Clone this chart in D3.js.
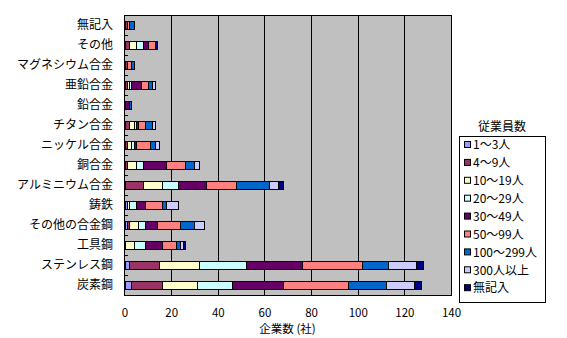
<!DOCTYPE html>
<html>
<head>
<meta charset="utf-8">
<script src="https://cdn.jsdelivr.net/npm/d3@7"></script>
<style>
  html, body { margin: 0; padding: 0; background: #fff; }
  svg { display: block; }
  text { font-family: "Noto Sans CJK JP", "Noto Sans", sans-serif; fill: #000; }
</style>
</head>
<body>
<svg id="chart" width="567" height="338"></svg>
<script>
// Material categories, top to bottom
const categories = ["無記入", "その他", "マグネシウム合金", "亜鉛合金", "鉛合金", "チタン合金",
  "ニッケル合金", "銅合金", "アルミニウム合金", "鋳鉄", "その他の合金鋼", "工具鋼", "ステンレス鋼", "炭素鋼"];

// Number of companies by employee-size class (same order as categories)
const emp1to3     = [0, 0, 0, 0, 0, 0, 0, 0, 0, 1, 1, 0, 2, 3];
const emp4to9     = [1, 2, 1, 1, 0, 2, 1, 1, 8, 0, 1, 0, 13, 13];
const emp10to19   = [0, 3, 0, 1, 0, 2, 2, 4, 8, 1, 4, 4, 17, 15];
const emp20to29   = [0, 3, 0, 1, 0, 1, 1, 3, 7, 3, 3, 5, 20, 15];
const emp30to49   = [0, 2, 0, 4, 2, 1, 1, 10, 12, 4, 5, 7, 24, 22];
const emp50to99   = [1, 3, 2, 3, 0, 3, 6, 8, 13, 7, 10, 6, 26, 28];
const emp100to299 = [2, 0, 1, 2, 1, 3, 2, 4, 14, 2, 6, 2, 11, 16];
const emp300plus  = [0, 0, 0, 1, 0, 1, 2, 2, 4, 5, 4, 1, 12, 12];
const empUnknown  = [0, 1, 0, 0, 0, 0, 0, 0, 2, 0, 0, 1, 3, 3];

const seriesNames = ["1～3人", "4～9人", "10～19人", "20～29人", "30～49人", "50～99人",
  "100～299人", "300人以上", "無記入"];
const seriesValues = [emp1to3, emp4to9, emp10to19, emp20to29, emp30to49, emp50to99,
  emp100to299, emp300plus, empUnknown];
const xTicks = [0, 20, 40, 60, 80, 100, 120, 140];

const colors = ["#9999FF", "#993366", "#FFFFCC", "#CCFFFF", "#660066", "#FF8080",
  "#0066CC", "#CCCCFF", "#000080"];

const svg = d3.select("#chart");

const plot = { left: 124, top: 15, right: 451, bottom: 295 };

const x = d3.scaleLinear().domain([0, 140]).range([plot.left + 0.5, plot.right]);
const yBand = d3.scaleBand().domain(categories).range([plot.top, plot.bottom]);

// Plot background
svg.append("rect")
  .attr("x", plot.left + 0.5).attr("y", plot.top + 0.5)
  .attr("width", plot.right - plot.left).attr("height", plot.bottom - plot.top)
  .attr("fill", "#C0C0C0");

// Vertical gridlines
svg.append("g").selectAll("line")
  .data(xTicks.slice(1, -1))
  .join("line")
  .attr("x1", d => Math.round(x(d)) + 0.5).attr("x2", d => Math.round(x(d)) + 0.5)
  .attr("y1", plot.top).attr("y2", plot.bottom)
  .attr("stroke", "#000").attr("stroke-width", 1);

// Stacked data
const rows = categories.map((c, i) => {
  const r = { category: c };
  seriesNames.forEach((s, k) => { r[s] = seriesValues[k][i]; });
  return r;
});
const stacked = d3.stack().keys(seriesNames)(rows);

svg.append("g").selectAll("g")
  .data(stacked)
  .join("g")
  .attr("fill", (d, k) => colors[k])
  .selectAll("rect")
  .data(d => d.filter(p => p[1] - p[0] > 0))
  .join("rect")
  .attr("x", p => Math.round(x(p[0])) + 0.5)
  .attr("width", p => Math.round(x(p[1])) - Math.round(x(p[0])))
  .attr("y", p => Math.round(yBand(p.data.category) + yBand.bandwidth() / 2 - 4) + 0.5)
  .attr("height", 8)
  .attr("stroke", "#000").attr("stroke-width", 1)
  .attr("shape-rendering", "crispEdges");

// Plot border
svg.append("rect")
  .attr("x", plot.left + 0.5).attr("y", plot.top + 0.5)
  .attr("width", plot.right - plot.left).attr("height", plot.bottom - plot.top)
  .attr("fill", "none").attr("stroke", "#000").attr("stroke-width", 1);

// Category axis: short inward ticks at band boundaries
svg.append("g").selectAll("line")
  .data(categories.slice(1))
  .join("line")
  .attr("x1", plot.left).attr("x2", plot.left + 4)
  .attr("y1", d => Math.round(yBand(d)) + 0.5).attr("y2", d => Math.round(yBand(d)) + 0.5)
  .attr("stroke", "#000");

svg.append("g").selectAll("text")
  .data(categories)
  .join("text")
  .attr("x", 113)
  .attr("y", d => yBand(d) + yBand.bandwidth() / 2)
  .attr("dy", "0.35em")
  .attr("text-anchor", "end")
  .attr("font-size", 12)
  .text(d => d);

// Value axis
const xAxis = d3.axisBottom(x).tickValues(xTicks).tickSize(0).tickPadding(0);
const gx = svg.append("g").attr("transform", `translate(0,${plot.bottom})`).call(xAxis);
gx.select(".domain").remove();
gx.selectAll("text")
  .attr("font-size", 11.5)
  .attr("font-family", "\"Liberation Sans\", Arial, sans-serif")
  .attr("y", 22).attr("dy", null);

svg.append("text")
  .attr("x", (plot.left + plot.right) / 2).attr("y", 332.5)
  .attr("text-anchor", "middle").attr("font-size", 11.5)
  .text("企業数 (社)");

// Legend
const legend = { x: 459, y: 136, w: 86, h: 166, step: 17.9 };
svg.append("text")
  .attr("x", legend.x + legend.w / 2).attr("y", 131)
  .attr("text-anchor", "middle").attr("font-size", 12)
  .text("従業員数");
svg.append("rect")
  .attr("x", legend.x + 0.5).attr("y", legend.y + 0.5)
  .attr("width", legend.w).attr("height", legend.h)
  .attr("fill", "#fff").attr("stroke", "#000");

const items = svg.append("g").selectAll("g")
  .data(seriesNames)
  .join("g")
  .attr("transform", (d, k) => `translate(${legend.x + 5},${legend.y + 9 + k * legend.step})`);
items.append("rect")
  .attr("x", 0.5).attr("y", -3.5).attr("width", 6).attr("height", 6)
  .attr("fill", (d, k) => colors[k]).attr("stroke", "#000");
items.append("text")
  .attr("x", 9).attr("y", 0).attr("dy", "0.35em")
  .attr("font-size", 12)
  .text(d => d);
</script>
</body>
</html>
